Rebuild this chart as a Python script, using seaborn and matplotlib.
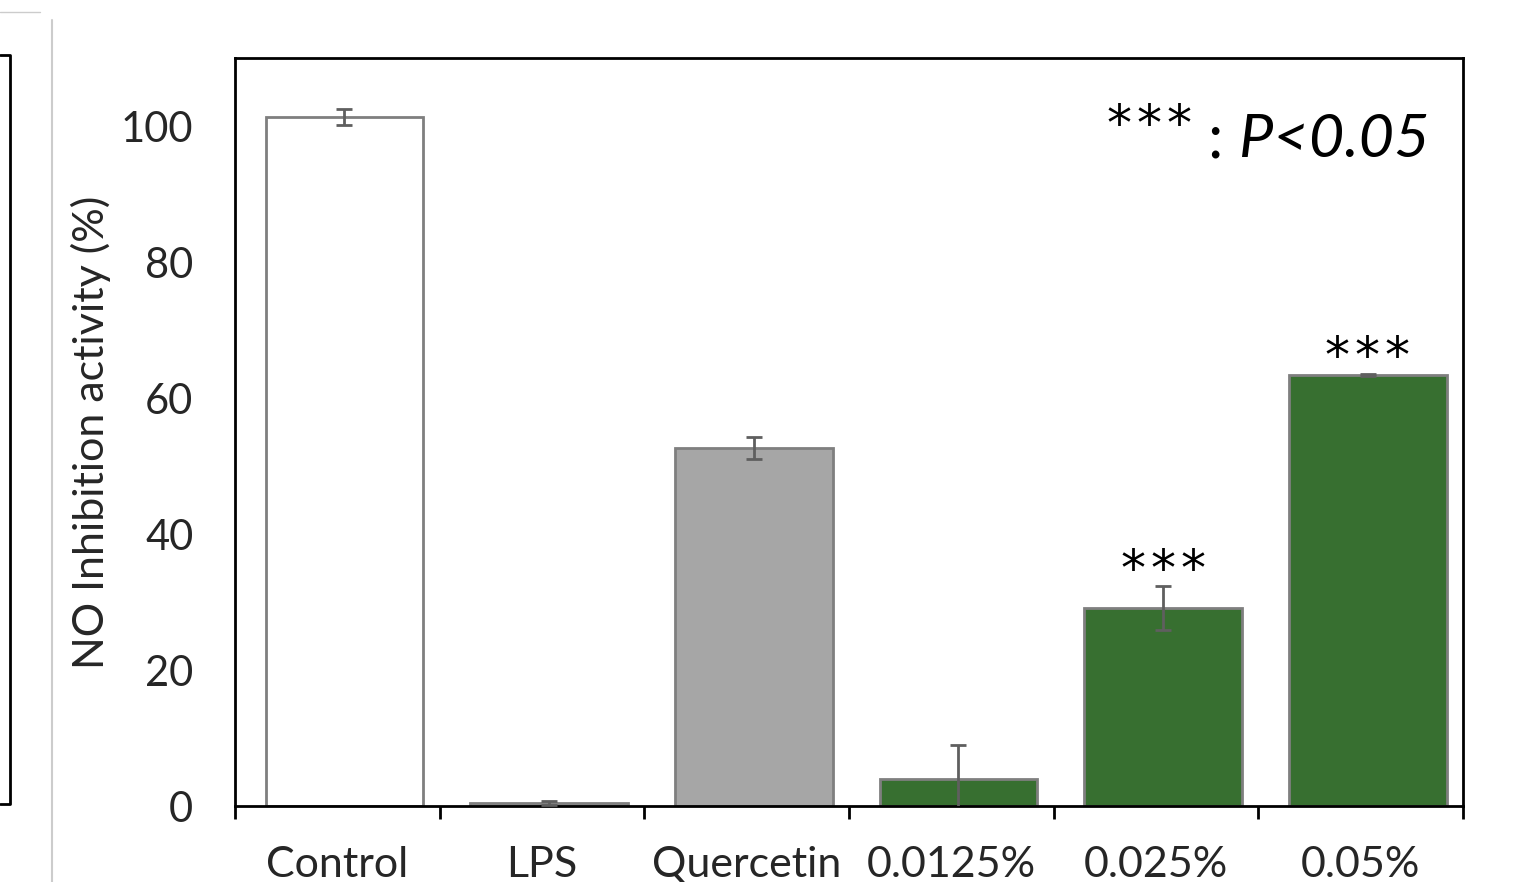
import numpy as np
import pandas as pd
import matplotlib.pyplot as plt
from matplotlib.lines import Line2D
import seaborn as sns

# Data
groups = ["Control", "LPS", "Quercetin", "0.0125%", "0.025%", "0.05%"]
means = [101.3, 0.4, 52.7, 4.0, 29.1, 63.4]
errors = [1.2, 0.3, 1.6, 5.0, 3.2, 0.2]
bar_colors = ["#ffffff", "#a6a6a6", "#a6a6a6", "#376f30", "#376f30", "#376f30"]
significant = ["", "", "", "", "***", "***"]

df = pd.DataFrame({"group": groups, "value": means})

sns.set_theme(style="white")
plt.rcParams['font.family'] = ['Lato', 'DejaVu Sans']

fig = plt.figure(figsize=(15.19, 8.82), dpi=100)
ax = fig.add_axes([235 / 1519, 1 - 806 / 882, (1463 - 235) / 1519, (806 - 58) / 882])

sns.barplot(data=df, x="group", y="value", hue="group", palette=bar_colors,
            saturation=1, width=0.77, edgecolor="#7f7f7f", linewidth=2,
            legend=False, ax=ax)

ax.errorbar(np.arange(len(groups)), means, yerr=errors, fmt="none",
            ecolor="#5f5f5f", elinewidth=2, capsize=6, capthick=2, zorder=5)

star_font = dict(family="DejaVu Sans", fontsize=36, color="black")
for i, s in enumerate(significant):
    if s:
        ax.text(i, means[i] + errors[i] + 2.3, "\u200a".join(s), ha="center", va="center",
                **star_font)

# "*** : P<0.05" note
t_p = ax.text(0.973, 0.89, "P<0.05", transform=ax.transAxes, ha="right", va="center",
              fontsize=44, style="italic", color="black")
t_c = ax.annotate(": ", xy=(0, 0.5), xycoords=t_p, ha="right", va="center",
                  fontsize=44, color="black")
ax.annotate("\u200a".join("***"), xy=(0, 0.5), xycoords=t_c, xytext=(-12, 10),
            textcoords="offset points", ha="right", va="center", **star_font)

# bars sit slightly right of the centre of each category slot
off = 0.035
ax.set_ylim(0, 110)
ax.set_xlim(-0.5 - off, len(groups) - 0.5 - off)
ax.set_yticks([0, 20, 40, 60, 80, 100])
ax.set_xticks(np.arange(len(groups)) - off, labels=groups)
ax.set_ylabel("NO Inhibition activity (%)", fontsize=31, labelpad=7)
ax.set_xlabel("")
ax.tick_params(axis="y", labelsize=30, length=0, pad=30)
ax.tick_params(axis="x", which="major", labelsize=31, length=0, pad=29)
ax.set_xticks(np.arange(-0.5, len(groups)) - off, minor=True)
ax.tick_params(axis="x", which="minor", length=9, width=2, color="black", direction="out")
ax.xaxis.set_ticks_position("bottom")

for side in ["top", "right", "left", "bottom"]:
    ax.spines[side].set_visible(True)
    ax.spines[side].set_color("black")
    ax.spines[side].set_linewidth(2)

# fragments of the neighbouring panel visible at the left edge
fig.add_artist(Line2D([0, 10 / 1519, 10 / 1519, 0],
                      [1 - 55 / 882, 1 - 55 / 882, 1 - 804 / 882, 1 - 804 / 882],
                      color="black", lw=2))
fig.add_artist(Line2D([0, 40 / 1519], [1 - 12 / 882, 1 - 12 / 882], color="#cccccc", lw=1))
fig.add_artist(Line2D([52 / 1519, 52 / 1519], [1 - 20 / 882, 0], color="#cccccc", lw=1.5))

fig.savefig("out.png", dpi=100)
plt.close(fig)
